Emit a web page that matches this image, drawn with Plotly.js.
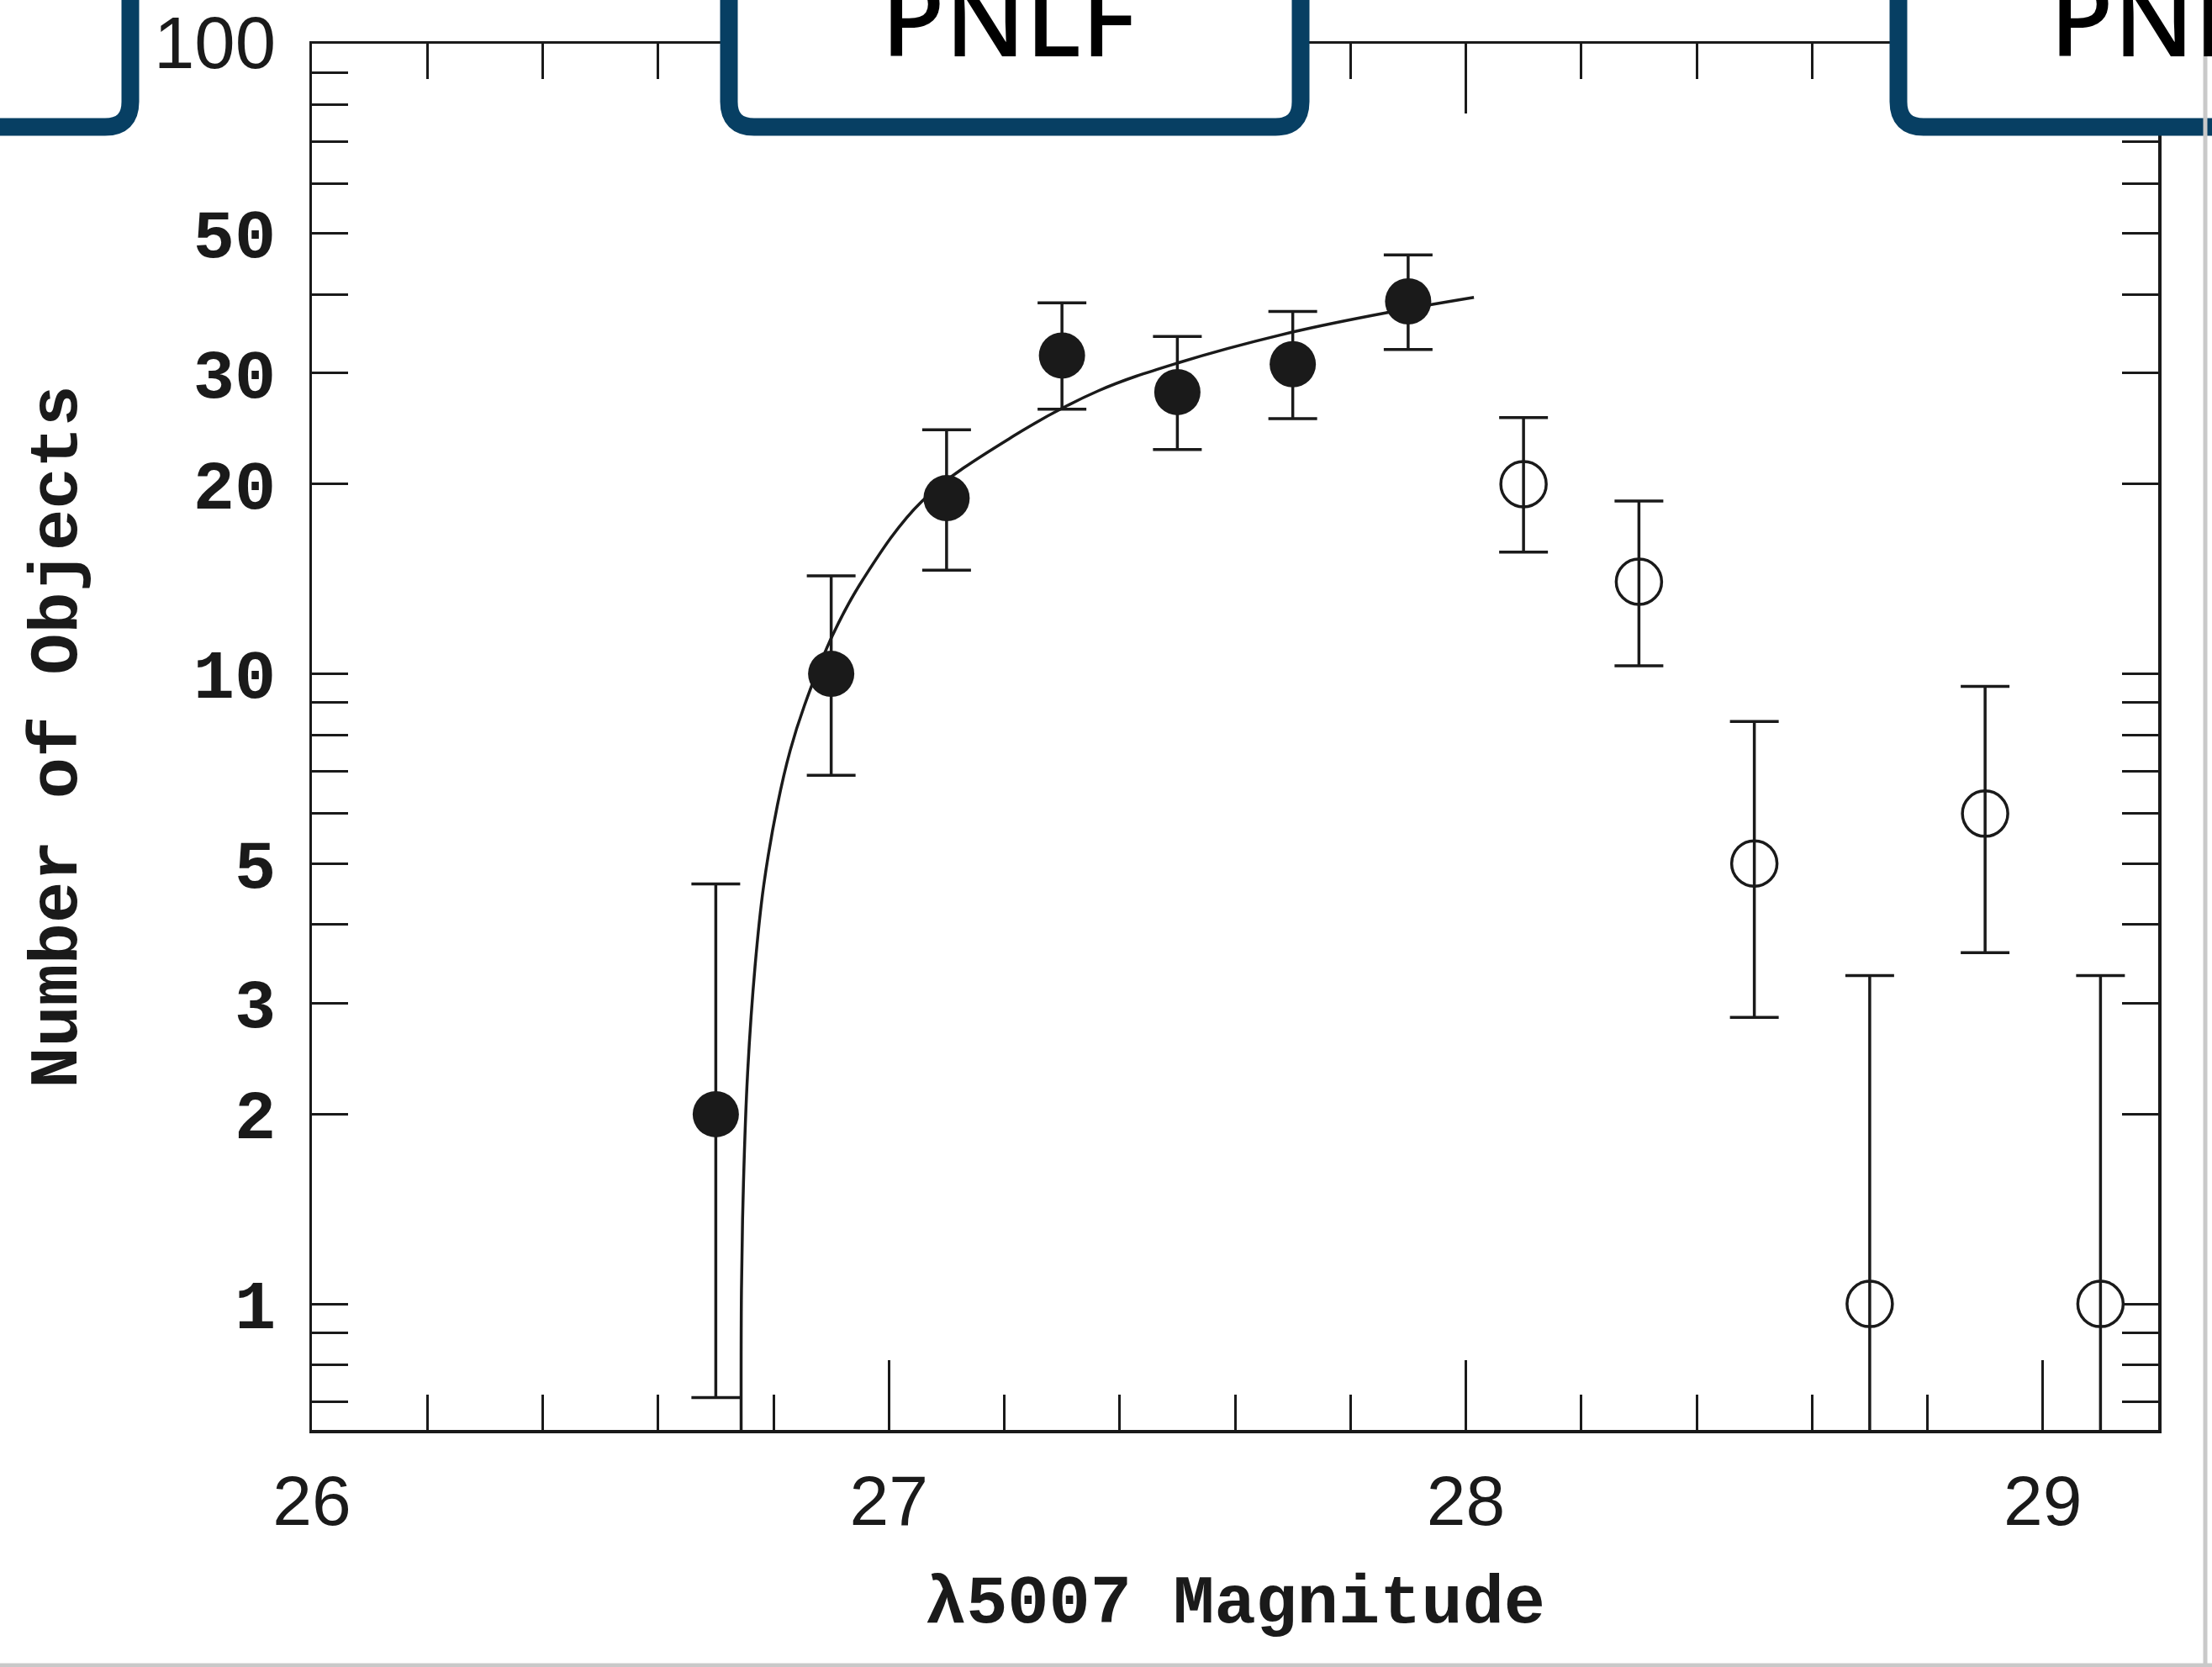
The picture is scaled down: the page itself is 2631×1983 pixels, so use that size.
<!DOCTYPE html>
<html>
<head>
<meta charset="utf-8">
<script src="https://cdn.plot.ly/plotly-3.0.1.min.js"></script>
<style>
  html, body { margin: 0; padding: 0; background: #ffffff; }
  #chart { width: 2631px; height: 1983px; }
</style>
</head>
<body>
<div id="chart"></div>
<script>
// ---------------- DATA ----------------
// Bins used in the PNLF fit (filled points)
const fitMag = [26.7, 26.9, 27.1, 27.3, 27.5, 27.7, 27.9];
const fitNum = [2, 10, 19, 32, 28, 31, 39];
const fitErrUp = [2.64, 4.3, 5.4, 6.8, 6.3, 6.6, 7.2];
const fitErrDown = [1.29, 3.1, 4.4, 5.7, 5.3, 5.6, 6.3];

// Bins fainter than the completeness limit (open points)
const faintMag = [28.1, 28.3, 28.5, 28.7, 28.9, 29.1];
const faintNum = [20, 14, 5, 1, 6, 1];
const faintErrUp = [5.5, 4.8, 3.4, 2.32, 3.55, 2.32];
const faintErrDown = [4.4, 3.7, 2.15, 1, 2.39, 1];

// Fitted luminosity-function curve
const curveMag = [26.744, 26.7445, 26.748, 26.755, 26.768, 26.783, 26.807, 26.829, 26.8535, 26.902,
                  26.955, 27.057, 27.2175, 27.3635, 27.502, 27.701, 27.866, 28.014];
const curveNum = [0.6, 1.05, 1.556, 2.31, 3.43, 4.61, 6.20, 7.56, 8.90, 11.49,
                  14.11, 18.78, 23.89, 28.14, 31.17, 34.89, 37.48, 39.57];

// Axis ticks
const xMajorTicks = [26, 27, 28, 29];
const xTickText = ['26', '27', '28', '29'];
const yTickVals = [0.7, 0.8, 0.9, 1, 2, 3, 4, 5, 6, 7, 8, 9, 10, 20, 30, 40, 50, 60, 70, 80, 90, 100];
const yTickText = ['', '', '', '1', '2', '3', '', '5', '', '', '', '', '10', '20', '30', '', '50', '', '', '', '',
                   '<span style="font-family:\'Liberation Sans\', Arial, sans-serif;font-size:87px;font-weight:normal">100</span>'];
const yMajorTicks = [1, 10, 100];

const xTitle = 'λ5007 Magnitude';
const yTitle = 'Number of Objects';
const boxLabel = 'PNLF';

// ---------------- STYLE / LAYOUT ----------------
const W = 2631, H = 1983;
const M = { l: 371, r: 64, t: 52, b: 282 };
const PW = W - M.l - M.r, PH = H - M.t - M.b;
const ink = '#1a1a1a';
const mono = "'Liberation Mono', 'Courier New', monospace";
const sans = "'Liberation Sans', Arial, sans-serif";

function px(x) { return (x - M.l) / PW; }
function py(y) { return (H - M.b - y) / PH; }

function roundedBox(l, r, b, t, rad) {
  // rounded bottom corners only (top lies off-page)
  const rx = rad / PW, ry = rad / PH;
  const L = px(l), R = px(r), B = py(b), T = py(t);
  return 'M ' + L + ' ' + T +
         ' L ' + L + ' ' + (B + ry) +
         ' Q ' + L + ' ' + B + ' ' + (L + rx) + ' ' + B +
         ' L ' + (R - rx) + ' ' + B +
         ' Q ' + R + ' ' + B + ' ' + R + ' ' + (B + ry) +
         ' L ' + R + ' ' + T + ' Z';
}

const boxColor = '#073f63';
const boxes = [
  { l: -700, r: 155 },
  { l: 867, r: 1547 },
  { l: 2258, r: 3100 }
];
const shapes = boxes.map(b => ({
  type: 'path', xref: 'paper', yref: 'paper', layer: 'above',
  path: roundedBox(b.l, b.r, 151, -200, 30),
  fillcolor: '#ffffff',
  line: { color: boxColor, width: 21 }
}));
// thin grey page border (right and bottom)
shapes.push({ type: 'line', xref: 'paper', yref: 'paper', layer: 'above',
  x0: px(2623), x1: px(2623), y0: py(-10), y1: py(H + 10),
  line: { color: '#c9c9c9', width: 5 } });
shapes.push({ type: 'line', xref: 'paper', yref: 'paper', layer: 'above',
  x0: px(-10), x1: px(W + 10), y0: py(1981), y1: py(1981),
  line: { color: '#c9c9c9', width: 5 } });

const labelFont = { family: "'Noto Sans', sans-serif", size: 124, color: '#000000', weight: 500 };
const annotations = [
  { xref: 'paper', yref: 'paper', x: px(1200), y: py(18), xanchor: 'center', yanchor: 'middle',
    text: boxLabel, showarrow: false, font: labelFont },
  { xref: 'paper', yref: 'paper', x: px(2590), y: py(18), xanchor: 'center', yanchor: 'middle',
    text: boxLabel, showarrow: false, font: labelFont }
];

const traces = [
  {
    x: curveMag, y: curveNum, type: 'scatter', mode: 'lines',
    line: { color: ink, width: 3.5, shape: 'spline', smoothing: 1 },
    hoverinfo: 'skip', showlegend: false
  },
  {
    x: fitMag, y: fitNum, type: 'scatter', mode: 'markers',
    marker: { symbol: 'circle', size: 55, color: ink, line: { width: 0 } },
    error_y: { type: 'data', symmetric: false, array: fitErrUp, arrayminus: fitErrDown,
               color: ink, thickness: 3.5, width: 29 },
    showlegend: false
  },
  {
    x: faintMag, y: faintNum, type: 'scatter', mode: 'markers',
    marker: { symbol: 'circle-open', size: 54, color: ink, line: { width: 3.5, color: ink } },
    error_y: { type: 'data', symmetric: false, array: faintErrUp, arrayminus: faintErrDown,
               color: ink, thickness: 3.5, width: 29 },
    showlegend: false
  }
];

const layout = {
  width: W, height: H,
  margin: M,
  paper_bgcolor: '#ffffff', plot_bgcolor: '#ffffff',
  showlegend: false,
  xaxis: {
    range: [26, 29.2],
    tickmode: 'array', tickvals: xMajorTicks, ticktext: xTickText,
    ticks: 'inside', ticklen: 83, tickwidth: 3, tickcolor: ink,
    minor: { tickmode: 'linear', tick0: 26, dtick: 0.2, ticks: 'inside', ticklen: 42,
             tickwidth: 3, tickcolor: ink, showgrid: false },
    showline: true, linewidth: 3.5, linecolor: ink, mirror: 'allticks',
    showgrid: false, zeroline: false,
    tickfont: { family: sans, size: 84, color: ink },
    ticklabelstandoff: 9,
    title: { text: xTitle, font: { family: mono, size: 82, color: ink, weight: 'bold' }, standoff: 42 }
  },
  yaxis: {
    type: 'log', range: [-0.2, 2],
    tickmode: 'array', tickvals: yTickVals, ticktext: yTickText,
    ticks: 'inside', ticklen: 43, tickwidth: 3, tickcolor: ink,
    showline: true, linewidth: 3.5, linecolor: ink, mirror: 'allticks',
    showgrid: false, zeroline: false,
    tickfont: { family: mono, size: 82, color: ink, weight: 'bold' },
    ticklabelstandoff: 23,
    title: { text: yTitle, font: { family: mono, size: 82, color: ink, weight: 'bold' }, standoff: 65 }
  },
  yaxis2: {
    type: 'log', range: [-0.2, 2], overlaying: 'y', side: 'left', anchor: 'x',
    tickmode: 'array', tickvals: yMajorTicks,
    ticks: 'inside', ticklen: 85, tickwidth: 3, tickcolor: ink,
    showticklabels: false, showline: false, mirror: 'allticks',
    showgrid: false, zeroline: false
  },
  shapes: shapes,
  annotations: annotations
};

Plotly.newPlot('chart', traces, layout, { displayModeBar: false, staticPlot: true });
</script>
</body>
</html>
